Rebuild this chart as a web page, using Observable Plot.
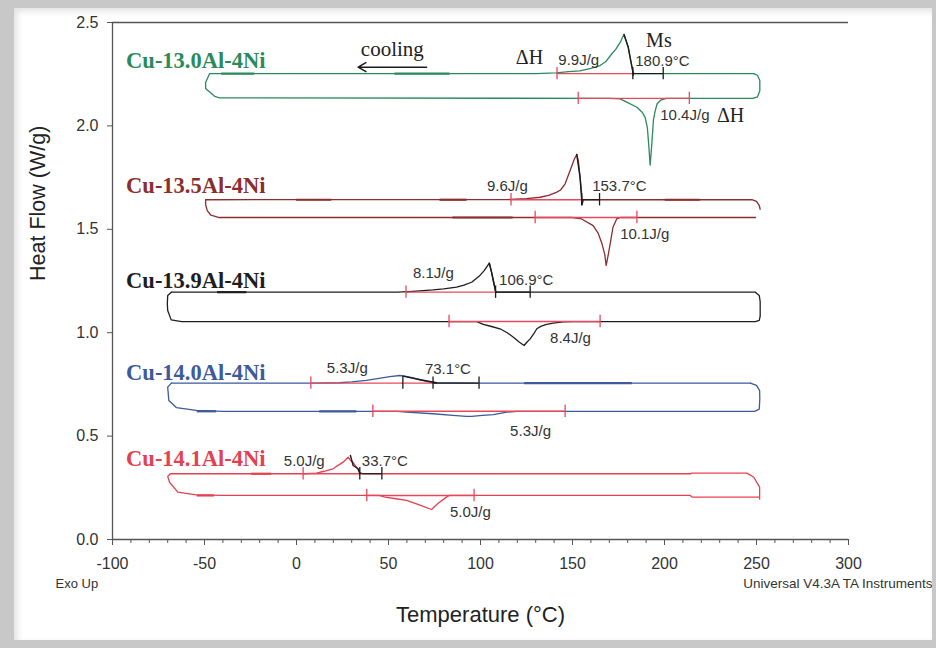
<!DOCTYPE html>
<html><head><meta charset="utf-8">
<script src="https://cdn.jsdelivr.net/npm/d3@7"></script>
<script src="https://cdn.jsdelivr.net/npm/@observablehq/plot@0.6"></script>
<style>
body{margin:0;background:#fff;}
#wrap{position:relative;width:936px;height:648px;overflow:hidden;background:#fff;}
#frame{position:absolute;left:0;top:0;width:936px;height:648px;box-sizing:border-box;border-style:solid;border-color:#c8c8c8;border-width:8px 4px 8px 14px;pointer-events:none;box-shadow:inset 3px 3px 6px rgba(0,0,0,0.12);}
</style></head>
<body><div id="wrap"><div id="chart"></div><div id="frame"></div></div>
<script>
// ---- data ----
const samples = ["Cu-13.0Al-4Ni","Cu-13.5Al-4Ni","Cu-13.9Al-4Ni","Cu-14.0Al-4Ni","Cu-14.1Al-4Ni"];
const sampleColors = ["#2b8a5c","#8b2e2e","#1e1e1e","#3d5a9a","#e5404f"];
const labelT = -92.6;
const labelHF = [2.316, 1.712, 1.252, 0.808, 0.392];

// [temperature °C, heat flow W/g]
const heat1 = [[-47.2,2.253],[-49.4,2.21],[-49.4,2.181],[-44.5,2.143],[-41.8,2.136],[170,2.133],[175.9,2.131],[179.5,2.115],[185,2.09],[188,2.065],[189.5,2.04],[190.7,1.99],[191.5,1.9],[192.2,1.81],[193,1.9],[194,2.03],[195,2.075],[196,2.107],[198,2.125],[201,2.133],[248,2.133],[250.5,2.14],[251.8,2.17],[251.8,2.22],[250.5,2.245],[248.5,2.253]];
const cool1 = [[248.5,2.253],[183.5,2.253],[182.8,2.262],[181.5,2.32],[180.3,2.38],[178,2.442],[177,2.425],[176,2.405],[173.5,2.37],[171.4,2.349],[168,2.31],[165,2.292],[160,2.278],[154,2.266],[148,2.262],[141,2.256],[130,2.253],[-47.2,2.253]];
const heat2 = [[-49.4,1.643],[-49.4,1.62],[-48.5,1.59],[-46.5,1.568],[-42,1.557],[150,1.557],[155,1.55],[161.2,1.518],[164,1.48],[166,1.431],[167.5,1.38],[168.3,1.325],[169.5,1.38],[170.8,1.446],[172,1.51],[174,1.55],[176,1.557],[249.5,1.557]];
const cool2 = [[252,1.597],[251.5,1.615],[250,1.635],[247.5,1.643],[156,1.643],[155.2,1.62],[154.9,1.68],[154.1,1.752],[153.2,1.83],[152.3,1.862],[151,1.84],[148.7,1.784],[146,1.72],[143.5,1.69],[141.5,1.68],[137,1.664],[132.4,1.655],[125,1.648],[116,1.644],[-49.4,1.643]];
const heat3 = [[-68,1.196],[-70,1.18],[-70.2,1.14],[-70,1.107],[-68.1,1.062],[-62.4,1.054],[98,1.054],[101.5,1.04],[106,1.03],[110.6,1.019],[114.5,1.0],[117.9,0.978],[121,0.955],[123.7,0.938],[125.3,0.955],[127,0.97],[129,0.995],[130.6,1.019],[133,1.032],[136,1.04],[139.5,1.046],[145,1.052],[150,1.054],[249.4,1.054],[251.5,1.06],[252,1.08],[252,1.15],[251.5,1.18],[249.5,1.194]];
const cool3 = [[249.5,1.196],[108.3,1.196],[107,1.25],[106,1.293],[104.8,1.336],[102,1.3],[99.7,1.277],[95.2,1.244],[91,1.23],[87,1.22],[80,1.212],[74.2,1.207],[63.3,1.2],[55,1.196],[-68,1.196]];
const heat4 = [[-68,0.756],[-70,0.737],[-69.4,0.672],[-65.3,0.638],[-54.5,0.624],[-40,0.62],[55,0.62],[59.8,0.616],[74.2,0.608],[85,0.6],[92.4,0.595],[95.2,0.595],[101,0.6],[107,0.604],[114.3,0.616],[120,0.62],[249,0.62],[251.5,0.63],[251.8,0.68],[251.7,0.72],[250,0.745],[246.7,0.756]];
const cool4 = [[246.7,0.756],[100,0.756],[76,0.758],[72.5,0.761],[67,0.772],[63.4,0.782],[59,0.79],[56.2,0.793],[50.7,0.788],[44,0.778],[38,0.769],[30,0.762],[23.5,0.758],[10,0.756],[-68,0.756]];
const heat5 = [[-68.5,0.318],[-70,0.305],[-69,0.277],[-64.5,0.229],[-54.5,0.216],[-40,0.213],[45,0.213],[48,0.205],[54,0.197],[59.8,0.189],[66,0.17],[73.4,0.145],[77,0.175],[81.5,0.205],[83,0.213],[214,0.213],[215,0.205],[251.7,0.205],[251.7,0.195],[251.7,0.253],[248.5,0.301],[244.8,0.321],[215,0.321],[214,0.318]];
const cool5 = [[214,0.318],[36,0.318],[34.4,0.325],[32.6,0.35],[30.5,0.375],[29.3,0.382],[28.1,0.398],[25.3,0.374],[22,0.355],[19.9,0.342],[15,0.33],[10.8,0.321],[5,0.318],[-68.5,0.318]];

// heavier baseline stretches: sample index, heat flow, T start, T end
const heavySample = [0,0,1,1,1,1,2,3,3,3,4,4];
const heavyHF     = [2.253,2.253,1.643,1.643,1.643,1.557,1.196,0.756,0.62,0.62,0.318,0.213];
const heavyFrom   = [-40.7,53.5,0,78,200.4,85,-42.9,124,-54,12.7,-24.4,-54];
const heavyTo     = [-22.7,83.4,19.2,92.7,219.5,117.7,-27,182.5,-43.4,32.8,-13.5,-44.5];

// integration baselines (red)
const intFrom = [141.6,153.1,116.6,129.7,59.5,82.9,7.8,41.5,3.6,38.2];
const intTo   = [182.8,213.5,155,185,108.2,165,74.2,146,34.4,96.5];
const intHF   = [2.253,2.133,1.643,1.557,1.196,1.054,0.756,0.62,0.318,0.213];

// onset construction segments (black)
const onsetFrom = [182.8,155,108.2,74.2,34.4];
const onsetTo   = [199.3,164.7,127,99.2,46.4];
const onsetHF   = [2.253,1.643,1.196,0.756,0.318];

// tick marks
const redTickT  = [141.6,153.1,213.5,116.6,129.7,185,59.5,82.9,165,7.8,41.5,146,3.6,38.2,96.5];
const redTickHF = [2.253,2.133,2.133,1.643,1.557,1.557,1.196,1.054,1.054,0.756,0.62,0.62,0.318,0.213,0.213];
const blackTickT  = [182.8,199.3,155,164.7,108.2,127,57.8,74.2,99.2,34.4,46.4];
const blackTickHF = [2.253,2.253,1.643,1.643,1.196,1.196,0.756,0.756,0.756,0.318,0.318];

// black tangent / onset edges
const blackEdges = [
  [[178,2.442],[180.3,2.38],[182.8,2.262],[183,2.245]],
  [[152.3,1.862],[154.1,1.752],[155.2,1.62]],
  [[104.8,1.336],[106,1.293],[108.3,1.196]],
  [[57.8,0.79],[66,0.775],[76,0.758]],
  [[29.3,0.406],[30.8,0.358],[33.5,0.342],[34.4,0.318]]
];

// annotations
const annoText = ["9.9J/g","180.9°C","10.4J/g","9.6J/g","153.7°C","10.1J/g","8.1J/g","106.9°C","8.4J/g","5.3J/g","73.1°C","5.3J/g","5.0J/g","33.7°C","5.0J/g"];
const annoT    = [142.3,184.1,197.7,103.5,160.7,175.9,63.3,110.1,137.8,16.5,69.8,116.1,-6.9,35.5,83.4];
const annoHF   = [2.320,2.313,2.050,1.707,1.707,1.475,1.286,1.252,0.972,0.827,0.822,0.522,0.377,0.377,0.131];
const serifText = ["ΔH","Ms","ΔH"];
const serifT    = [119.2,190.0,228.5];
const serifHF   = [2.328,2.414,2.05];
const coolingArrow = [{from: 70.7, to: 33.5, hf: 2.284, label: "cooling", labelT: 52.1, labelHF: 2.369}];

// ---- build tables ----
const branches = [[heat1,cool1],[heat2,cool2],[heat3,cool3],[heat4,cool4],[heat5,cool5]];
const curveRows = branches.flatMap(([h,c],i) => [
  ...h.map(([T,hf]) => ({sample: samples[i], branch: "heat", T, hf})),
  ...c.map(([T,hf]) => ({sample: samples[i], branch: "cool", T, hf}))
]);
const heavyRows = heavySample.map((s,i) => ({sample: samples[s], hf: heavyHF[i], a: heavyFrom[i], b: heavyTo[i]}));
const intRows = intFrom.map((a,i) => ({a, b: intTo[i], hf: intHF[i]}));
const onsetRows = onsetFrom.map((a,i) => ({a, b: onsetTo[i], hf: onsetHF[i]}));
const redTicks = redTickT.map((T,i) => ({T, hf: redTickHF[i]}));
const blackTicks = blackTickT.map((T,i) => ({T, hf: blackTickHF[i]}));
const edgeRows = blackEdges.flatMap((e,k) => e.map(([T,hf]) => ({k, T, hf})));
const annoRows = annoText.map((t,i) => ({t, T: annoT[i], hf: annoHF[i]}));
const serifRows = serifText.map((t,i) => ({t, T: serifT[i], hf: serifHF[i]}));
const labelRows = samples.map((s,i) => ({s, T: labelT, hf: labelHF[i]}));

const RED = "#e8485c", BLACK = "#1a1a1a", AX = "#555";
const tk = 0.03;
const SERIF = "'Liberation Serif', 'Times New Roman', serif";

const chart = Plot.plot({
  width: 936, height: 648,
  marginLeft: 112, marginRight: 88, marginTop: 22, marginBottom: 109,
  x: {domain: [-100, 300]},
  y: {domain: [0, 2.5]},
  color: {domain: samples, range: sampleColors},
  style: {fontFamily: "'Liberation Sans', Arial, sans-serif", color: "#333", background: "transparent"},
  marks: [
    Plot.ruleY([2.5], {stroke: AX, strokeWidth: 1.3}),
    Plot.ruleY([0], {stroke: AX, strokeWidth: 1.3}),
    Plot.ruleX([-100], {stroke: AX, strokeWidth: 1.3}),
    Plot.axisX({ticks: d3.range(-100, 301, 10), tickSize: 4, tickFormat: () => "", label: null, stroke: AX}),
    Plot.axisX({ticks: d3.range(-100, 301, 50), tickSize: 6, tickPadding: 12, fontSize: 16, tickFormat: d => String(d), label: null, stroke: AX}),
    Plot.axisY({ticks: d3.range(0, 2.51, 0.5), tickSize: 5, tickPadding: 9, fontSize: 16, tickFormat: d => d.toFixed(1), label: null, stroke: AX}),
    Plot.line(curveRows, {x: "T", y: "hf", z: d => d.sample + d.branch, stroke: "sample", strokeWidth: 1.3, curve: "linear"}),
    Plot.ruleY(heavyRows, {x1: "a", x2: "b", y: "hf", stroke: "sample", strokeWidth: 2.2}),
    Plot.ruleY(intRows, {x1: "a", x2: "b", y: "hf", stroke: RED, strokeWidth: 1.4}),
    Plot.ruleY(onsetRows, {x1: "a", x2: "b", y: "hf", stroke: BLACK, strokeWidth: 1.2}),
    Plot.line(edgeRows, {x: "T", y: "hf", z: "k", stroke: BLACK, strokeWidth: 1.4}),
    Plot.ruleX(redTicks, {x: "T", y1: d => d.hf - tk, y2: d => d.hf + tk, stroke: RED, strokeWidth: 1.3}),
    Plot.ruleX(blackTicks, {x: "T", y1: d => d.hf - tk, y2: d => d.hf + tk, stroke: BLACK, strokeWidth: 1.3}),
    Plot.text(annoRows, {x: "T", y: "hf", text: "t", textAnchor: "start", fontSize: 15, fill: "#333"}),
    Plot.text(serifRows, {x: "T", y: "hf", text: "t", textAnchor: "start", fontSize: 20, fontFamily: SERIF, fill: "#222"}),
    Plot.text(labelRows, {x: "T", y: "hf", text: "s", textAnchor: "start", fontSize: 22.5, fontWeight: "bold", fontFamily: SERIF, fill: "s"}),
    Plot.arrow(coolingArrow, {x1: "from", x2: "to", y1: "hf", y2: "hf", stroke: BLACK, strokeWidth: 1.5, headLength: 9}),
    Plot.text(coolingArrow, {x: "labelT", y: "labelHF", text: "label", fontSize: 21, fontFamily: SERIF, fill: "#222"}),
    Plot.text(["Temperature (°C)"], {frameAnchor: "bottom", text: d => d, dy: 82, fontSize: 22, fill: "#222"}),
    Plot.text(["Heat Flow (W/g)"], {frameAnchor: "left", text: d => d, rotate: -90, dx: -74, fontSize: 21.5, fill: "#222"}),
    Plot.text(["Exo Up"], {frameAnchor: "bottom-left", text: d => d, textAnchor: "start", dx: -57, dy: 48, fontSize: 13, fill: "#333"}),
    Plot.text(["Universal V4.3A TA Instruments"], {frameAnchor: "bottom-right", text: d => d, textAnchor: "end", dx: 84, dy: 48, fontSize: 13.5, fill: "#333"})
  ]
});
document.getElementById("chart").appendChild(chart);
</script>
</body></html>
